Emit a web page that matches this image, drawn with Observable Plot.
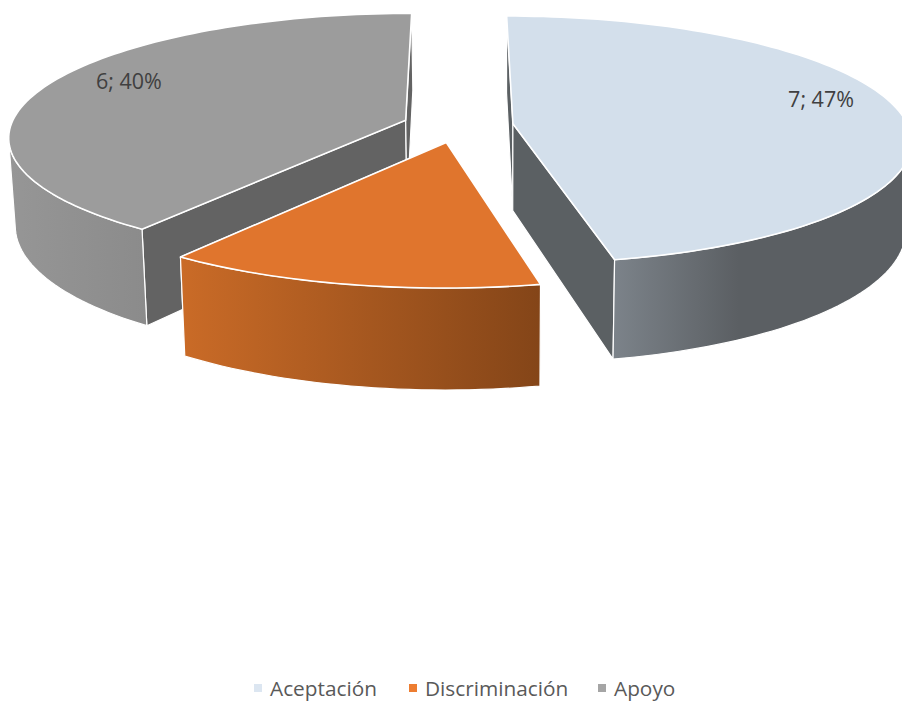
<!DOCTYPE html>
<html lang="es">
<head>
<meta charset="utf-8">
<script src="https://cdn.jsdelivr.net/npm/d3@7"></script>
<script src="https://cdn.jsdelivr.net/npm/@observablehq/plot@0.6"></script>
<style>
  html, body { margin: 0; padding: 0; background: #fff; overflow: hidden; }
  #chart svg { display: block; }
  #legend { height: 36px; position: relative; font: 20.8px "Open Sans", sans-serif; color: #595959; }
  #legend .item { position: absolute; top: 0; height: 46px; display: flex; align-items: center; white-space: nowrap; }
  #legend i { display: inline-block; width: 8px; height: 8px; margin-right: 8px; }
</style>
</head>
<body>
<div id="chart"></div>
<div id="legend"></div>
<script>
const categories = ["Aceptación", "Discriminación", "Apoyo"];
const values = [7, 2, 6];
const percents = [47, 13, 40];
const topColors = ["#d3dfeb", "#e0752d", "#9c9c9c"];
const faceColors = ["#5b6063", "#844518", "#636363"];
const wallStops = [
  [["0%", "#7c838a"], ["42%", "#5b5f63"], ["100%", "#5b5f63"]],
  [["0%", "#ca6b27"], ["100%", "#844518"]],
  [["0%", "#969696"], ["100%", "#8b8b8b"]]
];
const legendColors = ["#dce6f1", "#ed7d31", "#a5a5a5"];
const labelled = [true, false, true];
const labelAngles = [76, null, 294];
const labelRadii = [0.83, null, 0.81];

const W = 902, H = 665;
const cx = 457.5, cy = 125, rx = 395, ry = 122, k = 0.129, depth = 87, explode = 0.14;
const rad = d => d * Math.PI / 180;

function project(X, Y, Z) {
  const f = 1 / (1 - k * Y);
  const sx = cx + rx * X * f;
  return [sx + Z * 0.0135 * (500 - sx), cy + ry * Y * f + Z * depth * f];
}

const total = d3.sum(values);
let acc = 0;
const slices = categories.map((name, i) => {
  const a0 = acc; acc += values[i] / total * 360;
  const a1 = acc, mid = (a0 + a1) / 2;
  return {i, name, a0, a1, ox: explode * Math.sin(rad(mid)), oy: -explode * Math.cos(rad(mid))};
});

const rim = (s, a, Z, r = 1) => project(s.ox + r * Math.sin(rad(a)), s.oy - r * Math.cos(rad(a)), Z);
const angles = (a0, a1) => { const n = Math.ceil((a1 - a0) / 1.5); return d3.range(n + 1).map(j => a0 + (a1 - a0) * j / n); };

const polys = [];
const add = (id, fill, pts) => pts.forEach(p => polys.push({id, fill, x: p[0], y: p[1]}));

// Back-to-front: Apoyo, Aceptación, Discriminación
for (const idx of [2, 0, 1]) {
  const s = slices[idx];
  const apex0 = project(s.ox, s.oy, 0), apex1 = project(s.ox, s.oy, 1);
  add(`f0-${idx}`, faceColors[idx], [apex0, rim(s, s.a0, 0), rim(s, s.a0, 1), apex1]);
  add(`f1-${idx}`, faceColors[idx], [apex0, rim(s, s.a1, 0), rim(s, s.a1, 1), apex1]);
  const wa0 = Math.max(s.a0, 100), wa1 = Math.min(s.a1, 260);
  const arc = angles(wa0, wa1);
  add(`w-${idx}`, `url(#wall${idx})`, [...arc.map(a => rim(s, a, 0)), ...arc.slice().reverse().map(a => rim(s, a, 1))]);
  add(`t-${idx}`, topColors[idx], [apex0, ...angles(s.a0, s.a1).map(a => rim(s, a, 0))]);
}

const labels = slices.filter(s => labelled[s.i]).map(s => {
  const [x, y] = rim(s, labelAngles[s.i], 0, labelRadii[s.i]);
  return {x, y, text: `${values[s.i]}; ${percents[s.i]}%`};
});

const defs = () => {
  const svg = d3.create("svg:defs");
  wallStops.forEach((stops, i) => {
    const g = svg.append("linearGradient").attr("id", `wall${i}`).attr("x1", 0).attr("x2", 1).attr("y1", 0).attr("y2", 0);
    stops.forEach(([o, c]) => g.append("stop").attr("offset", o).attr("stop-color", c));
  });
  return svg.node();
};

const groups = d3.groups(polys, d => d.id);
const chart = Plot.plot({
  width: W, height: H, margin: 0,
  x: {domain: [0, W], range: [0, W], axis: null},
  y: {domain: [0, H], range: [0, H], axis: null},
  style: {background: "#fff"},
  marks: [
    defs,
    ...groups.map(([id, pts]) => Plot.line(pts, {
      x: "x", y: "y", curve: "linear-closed",
      fill: pts[0].fill, stroke: "#fff", strokeWidth: id[0] === "t" ? 1.6 : 1.2, strokeLinejoin: "round"
    })),
    Plot.text(labels, {x: "x", y: "y", text: "text", fill: "#404040", fontSize: 21.5, fontFamily: "Open Sans"})
  ]
});
document.getElementById("chart").append(chart);

const legend = document.getElementById("legend");
const lefts = [254, 409, 598];
categories.forEach((c, i) => {
  const el = document.createElement("div");
  el.className = "item";
  el.style.left = lefts[i] + "px";
  const sw = document.createElement("i");
  sw.style.background = legendColors[i];
  el.append(sw, c);
  legend.append(el);
});
</script>
</body>
</html>
